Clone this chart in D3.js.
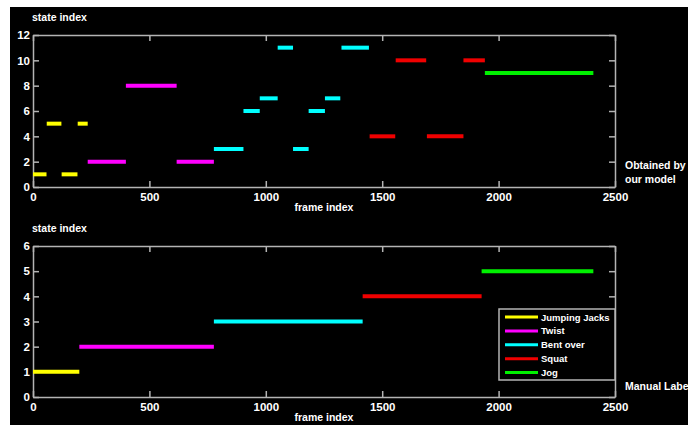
<!DOCTYPE html>
<html>
<head>
<meta charset="utf-8">
<script src="https://cdn.jsdelivr.net/npm/d3@7"></script>
<style>
  html, body { margin: 0; padding: 0; background: #fff; }
  svg text { font-family: "Liberation Sans", Arial, sans-serif; font-weight: bold; fill: #fff; }
</style>
</head>
<body>
<svg id="chart" width="688" height="425"></svg>
<script>
// activities, in legend order
const activities = ['Jumping Jacks', 'Twist', 'Bent over', 'Squat', 'Jog'];
const colors = ['#ffff00', '#ff00ff', '#00ffff', '#f00000', '#00f000'];

// top: states found by the model -> [start frame, end frame, state, activity]
const modelSegments = [
  [0, 58, 1, 0], [59, 122, 5, 0], [123, 191, 1, 0], [192, 235, 5, 0],
  [235, 399, 2, 1], [399, 617, 8, 1], [617, 777, 2, 1],
  [777, 904, 3, 2], [904, 974, 6, 2], [974, 1051, 7, 2], [1051, 1117, 11, 2],
  [1117, 1184, 3, 2], [1184, 1254, 6, 2], [1254, 1320, 7, 2], [1325, 1443, 11, 2],
  [1446, 1556, 4, 3], [1558, 1689, 10, 3], [1692, 1849, 4, 3], [1849, 1941, 10, 3],
  [1941, 2407, 9, 4]
];

// bottom: manual labels
const manualSegments = [
  [0, 199, 1, 0], [199, 777, 2, 1], [777, 1416, 3, 2], [1416, 1927, 4, 3], [1927, 2407, 5, 4]
];

const xTicks = [0, 500, 1000, 1500, 2000, 2500];
const topYTicks = [0, 2, 4, 6, 8, 10, 12];
const bottomYTicks = [0, 1, 2, 3, 4, 5, 6];

const svg = d3.select('#chart');
svg.append('rect').attr('x', 10).attr('y', 7).attr('width', 678).attr('height', 418).attr('fill', '#000');

const axisColor = '#b4b4b4';
const x = d3.scaleLinear().domain([0, 2500]).range([33, 615]);

function drawPanel(top, bottom, yMax, yTicks, segs, sideLabel, sideY) {
  const y = d3.scaleLinear().domain([0, yMax]).range([bottom, top]);
  const g = svg.append('g');

  // bottom & left axes with labels, top & right with inward ticks only
  const ax = g.append('g').attr('transform', `translate(0,${bottom})`)
    .call(d3.axisBottom(x).tickValues(xTicks).tickFormat(d3.format('d'))
      .tickSizeInner(-6).tickSizeOuter(0).tickPadding(4));
  const ay = g.append('g').attr('transform', `translate(33,0)`)
    .call(d3.axisLeft(y).tickValues(yTicks).tickFormat(d3.format('d'))
      .tickSizeInner(-6).tickSizeOuter(0).tickPadding(4));
  const axT = g.append('g').attr('transform', `translate(0,${top})`)
    .call(d3.axisTop(x).tickValues(xTicks).tickSizeInner(-6).tickSizeOuter(0).tickFormat(''));
  const ayR = g.append('g').attr('transform', `translate(615,0)`)
    .call(d3.axisRight(y).tickValues(yTicks).tickSizeInner(-6).tickSizeOuter(0).tickFormat(''));
  [ax, ay, axT, ayR].forEach(a => {
    a.selectAll('path, line').attr('stroke', axisColor).attr('stroke-width', 1.5);
    a.selectAll('text').attr('fill', '#fff').style('font-size', '11.5px').style('font-weight', 'bold')
      .style('font-family', '"Liberation Sans", Arial, sans-serif');
  });
  ax.selectAll('text').attr('dy', '0.9em');
  ay.selectAll('text').attr('dx', '1px');

  g.selectAll('line.seg').data(segs).enter().append('line')
    .attr('class', 'seg')
    .attr('x1', d => x(d[0])).attr('x2', d => x(d[1]))
    .attr('y1', d => y(d[2])).attr('y2', d => y(d[2]))
    .attr('stroke', d => colors[d[3]]).attr('stroke-width', 4);

  g.append('text').attr('x', 32).attr('y', top - 14).style('font-size', '10.5px').text('state index');
  g.append('text').attr('x', 324).attr('y', bottom + 24).attr('text-anchor', 'middle')
    .style('font-size', '10.5px').text('frame index');
  sideLabel.forEach((t, i) => {
    g.append('text').attr('x', 625).attr('y', sideY + i * 14)
      .style('font-size', '10.5px').text(t);
  });
  return y;
}

drawPanel(35, 187, 12, topYTicks, modelSegments, ['Obtained by', 'our model'], 169);
drawPanel(246, 397, 6, bottomYTicks, manualSegments, ['Manual Labels'], 390);

// legend
const lg = svg.append('g').attr('transform', 'translate(499,309)');
lg.append('rect').attr('width', 116).attr('height', 71)
  .attr('fill', '#000').attr('stroke', axisColor).attr('stroke-width', 1.5);
activities.forEach((a, i) => {
  const yy = 8 + i * 13.9;
  lg.append('line').attr('x1', 6).attr('x2', 39).attr('y1', yy).attr('y2', yy)
    .attr('stroke', colors[i]).attr('stroke-width', 3);
  lg.append('text').attr('x', 42).attr('y', yy + 3.5).style('font-size', '9.5px').text(a);
});
</script>
</body>
</html>
